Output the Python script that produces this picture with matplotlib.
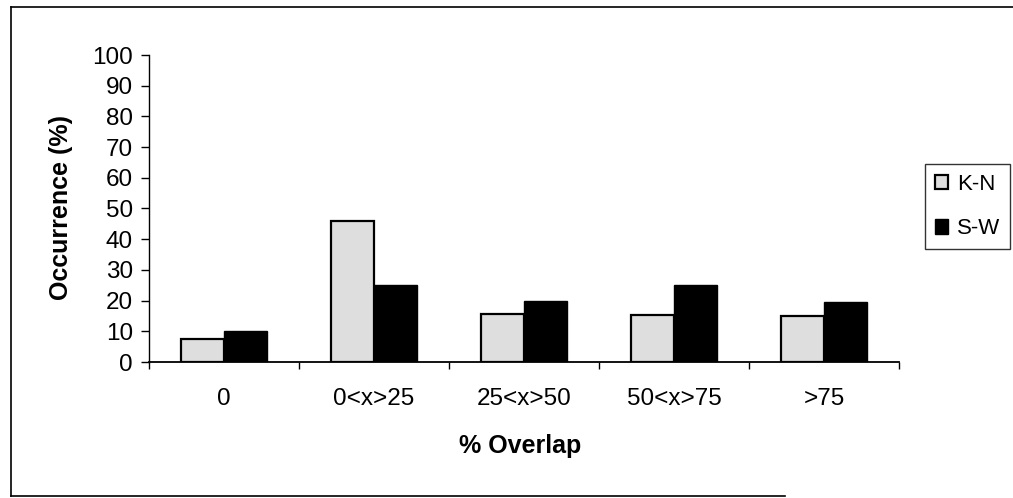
import matplotlib.pyplot as plt
from matplotlib.lines import Line2D
import numpy as np

categories = ['0', '0<x>25', '25<x>50', '50<x>75', '>75']
kn_values = [7.5, 46, 15.5, 15.3, 15]
sw_values = [10, 25, 20, 25, 19.5]
series_names = ['K-N', 'S-W']

plt.rcParams['font.family'] = ['Liberation Sans', 'DejaVu Sans']

fw, fh = 1013, 498
fig = plt.figure(figsize=(fw / 100, fh / 100), dpi=100)
ax = fig.add_axes([149 / fw, 1 - 362 / fh, 750 / fw, 307 / fh])

x = np.arange(len(categories))
w = 1 / 3.5
ax.bar(x - w / 2, kn_values, w, color='#dedede', edgecolor='black', linewidth=1.6, label=series_names[0])
ax.bar(x + w / 2, sw_values, w, color='black', edgecolor='black', linewidth=1.0, label=series_names[1])

ax.set_xlim(-0.5, len(categories) - 0.5)
ax.set_ylim(0, 100)
ax.set_yticks(range(0, 101, 10))
ax.set_xticks(np.arange(-0.5, len(categories), 1.0))
ax.set_xticklabels([])
ax.set_xticks(x, minor=True)
ax.set_xticklabels(categories, minor=True)
ax.tick_params(axis='x', which='minor', length=0, pad=18.5, labelsize=17.5)
ax.tick_params(axis='x', which='major', length=5, width=1)
ax.tick_params(axis='y', length=5.5, width=1, labelsize=17.5, pad=6)

for s in ['top', 'right']:
    ax.spines[s].set_visible(False)
ax.spines['left'].set_linewidth(1)
ax.spines['bottom'].set_linewidth(1.3)

fig.text(520 / fw, 1 - 446 / fh, '% Overlap', fontsize=18, fontweight='bold', ha='center', va='center')
fig.text(61 / fw, 1 - 208 / fh, 'Occurrence (%)', fontsize=18, fontweight='bold',
         ha='center', va='center', rotation=90)

leg = ax.legend(loc='upper left', bbox_to_anchor=(925 / fw, 1 - 164 / fh),
                bbox_transform=fig.transFigure, fontsize=16, frameon=True,
                fancybox=False, edgecolor='black', handlelength=0.6, handleheight=0.6,
                handletextpad=0.4, borderpad=0.45, labelspacing=1.05, borderaxespad=0)
leg.get_frame().set_linewidth(1)

# outer frame (open on the right side)
fig.add_artist(Line2D([11 / fw, 1.0], [1 - 7 / fh, 1 - 7 / fh], color='black', lw=1.2, transform=fig.transFigure))
fig.add_artist(Line2D([11 / fw, 11 / fw], [1 - 7 / fh, 1 - 496 / fh], color='black', lw=1.2, transform=fig.transFigure))
fig.add_artist(Line2D([11 / fw, 785 / fw], [1 - 496 / fh, 1 - 496 / fh], color='black', lw=1.2, transform=fig.transFigure))

fig.savefig('out.png', dpi=100)
